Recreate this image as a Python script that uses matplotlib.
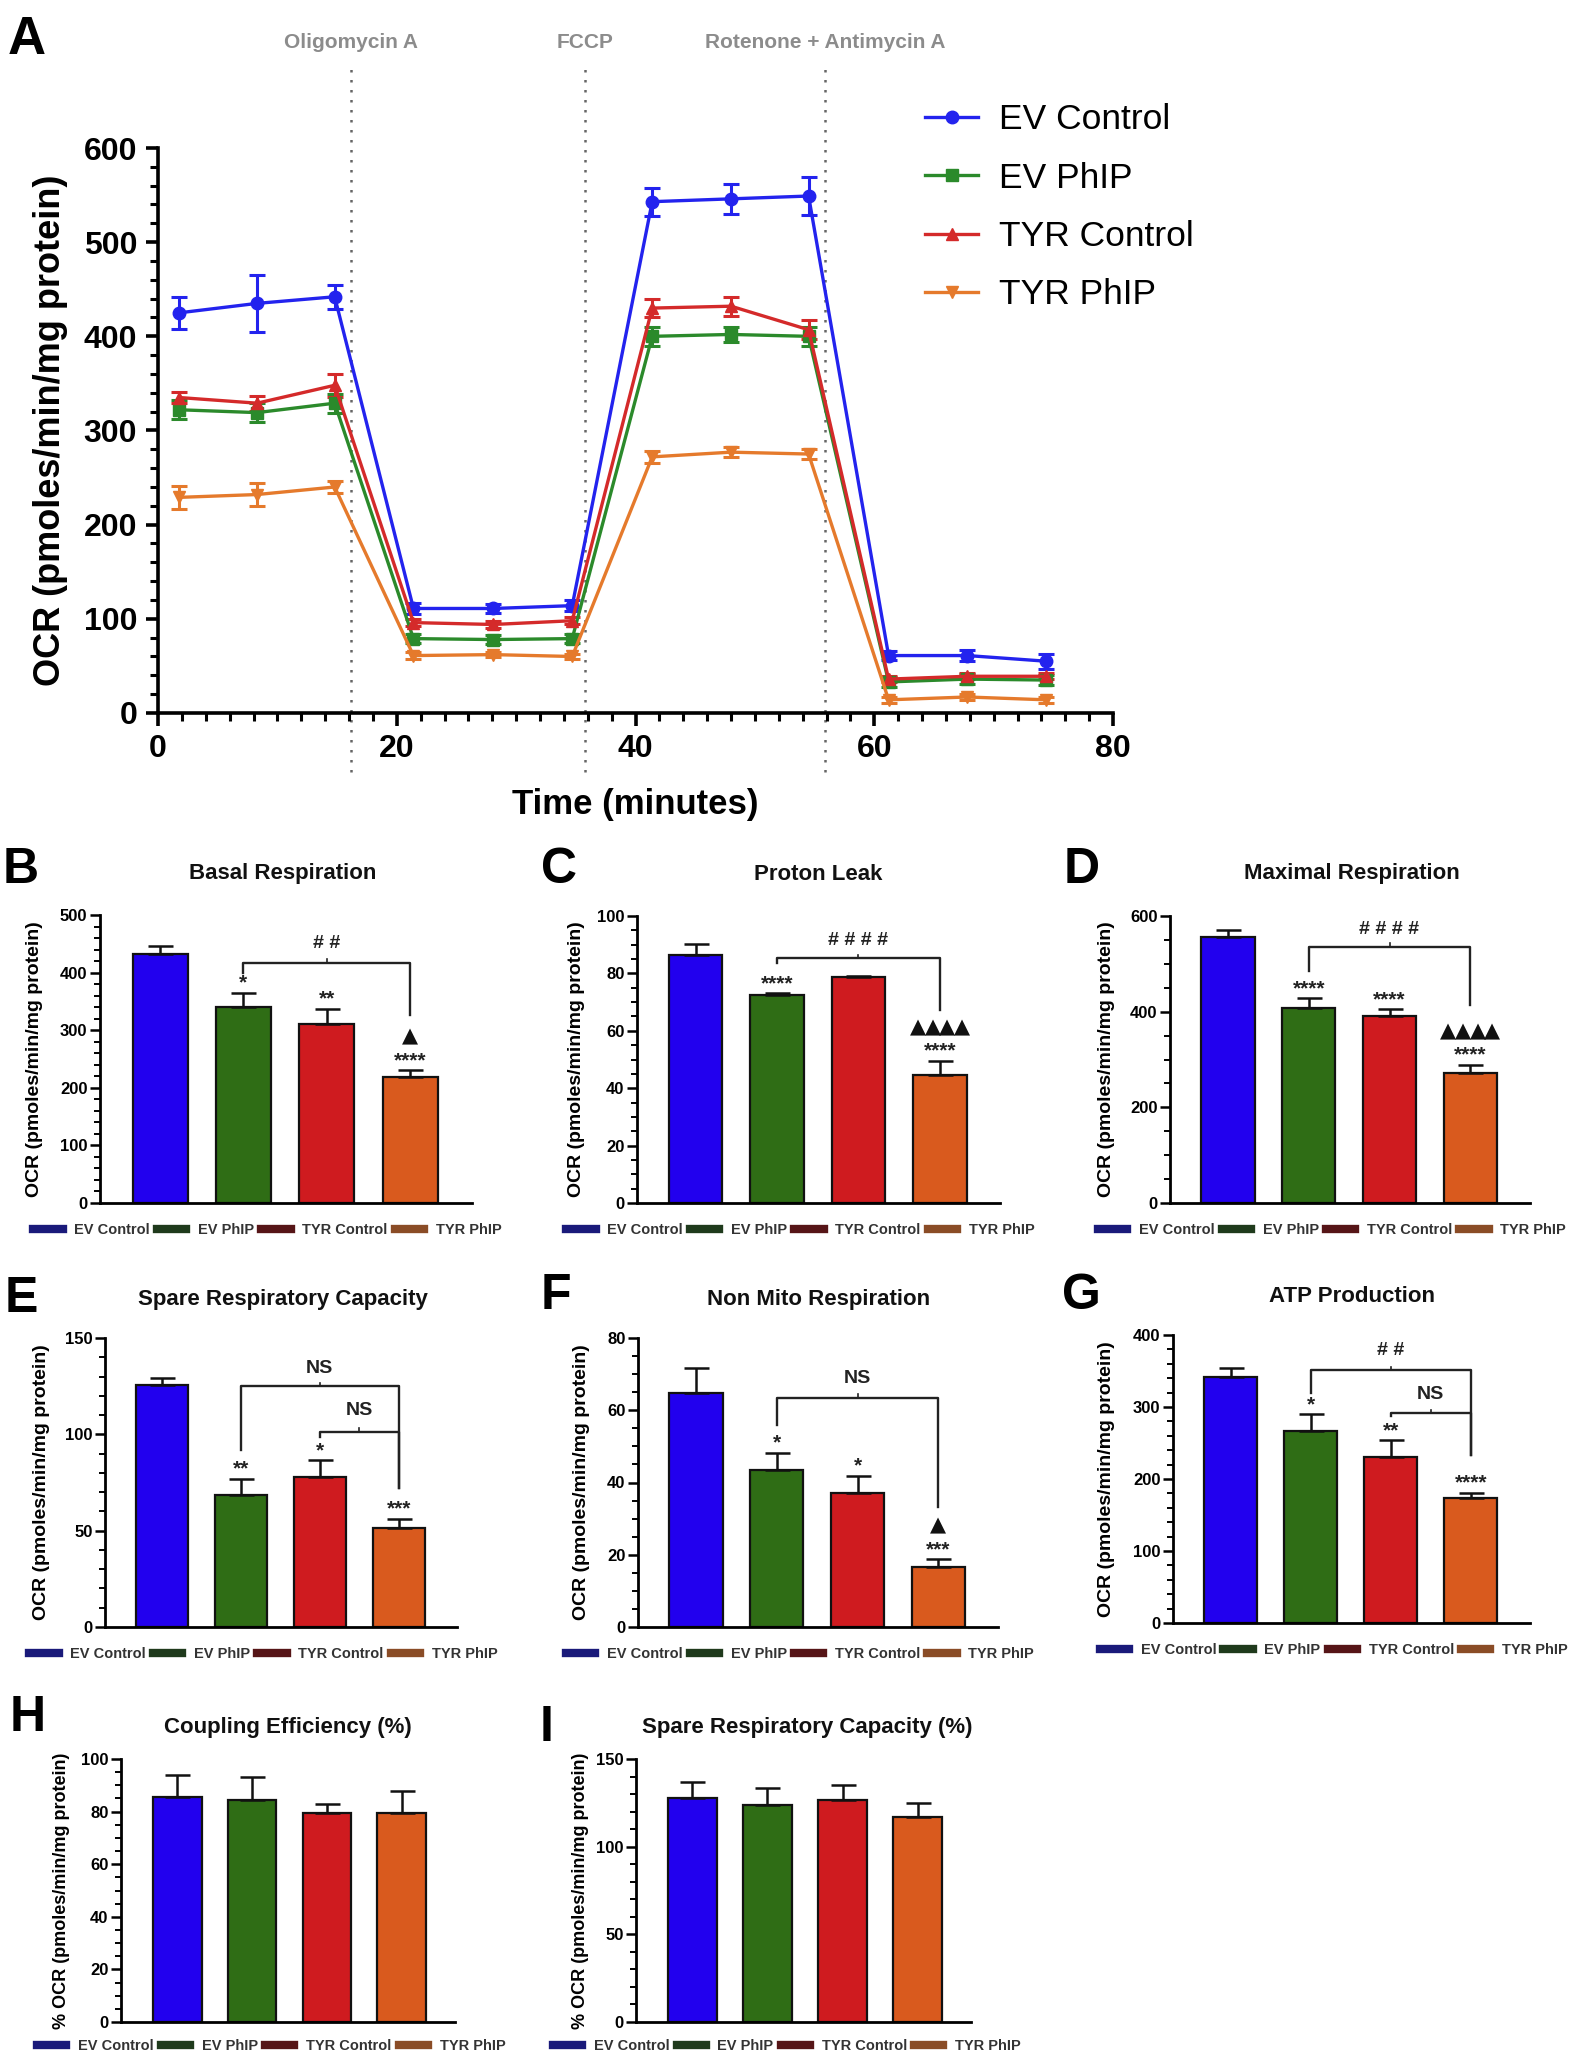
import matplotlib
matplotlib.use("Agg")
import matplotlib.pyplot as plt
import matplotlib.transforms as mtransforms
from matplotlib.lines import Line2D
from matplotlib.ticker import MultipleLocator, AutoMinorLocator

plt.rcParams['font.family'] = ['Liberation Sans', 'DejaVu Sans']

# ---- data: panel A (Seahorse trace) ----
time_min = [1.8, 8.3, 14.8, 21.4, 28.1, 34.7, 41.4, 48.0, 54.5, 61.2, 67.8, 74.4]
ev_ctrl = [425, 435, 442, 111, 111, 114, 543, 546, 549, 61, 61, 55]
ev_ctrl_err = [17, 30, 13, 6, 5, 6, 15, 16, 20, 5, 6, 8]
ev_phip = [322, 319, 329, 79, 78, 79, 400, 402, 400, 33, 36, 35]
ev_phip_err = [10, 10, 10, 5, 5, 5, 10, 8, 10, 5, 5, 5]
tyr_ctrl = [335, 329, 348, 96, 94, 98, 430, 432, 407, 36, 39, 39]
tyr_ctrl_err = [6, 8, 12, 4, 4, 4, 10, 10, 10, 3, 3, 3]
tyr_phip = [229, 232, 240, 61, 62, 60, 272, 277, 275, 14, 17, 14]
tyr_phip_err = [12, 12, 6, 4, 3, 3, 6, 5, 5, 3, 3, 3]
injections = ['Oligomycin A', 'FCCP', 'Rotenone + Antimycin A']
injection_min = [16.2, 35.8, 55.9]

# ---- data: bar panels ----
groups = ['EV Control', 'EV PhIP', 'TYR Control', 'TYR PhIP']
basal = [432, 341, 311, 218]
basal_err = [14, 24, 26, 13]
leak = [86.4, 72.5, 78.6, 44.6]
leak_err = [4, 0.5, 0.4, 5]
maximal = [557, 407, 390, 271]
maximal_err = [14, 21, 15, 18]
spare = [125.6, 68.5, 77.7, 51.2]
spare_err = [3.5, 8.5, 9, 5]
nonmito = [64.9, 43.5, 37.2, 16.7]
nonmito_err = [6.7, 4.8, 4.7, 2]
atp = [342, 266, 231, 173]
atp_err = [12, 24, 23, 8]
coupling = [85.4, 84.4, 79.6, 79.6]
coupling_err = [8.5, 8.6, 3.3, 8.2]
spare_pct = [127.6, 123.6, 126.6, 116.8]
spare_pct_err = [9.5, 9.7, 8.6, 8.3]

# significance marks (stars vs EV Control, triangles vs TYR Control)
basal_stars = ['', '*', '**', '****']
basal_tri = [0, 0, 0, 1]
leak_stars = ['', '****', '', '****']
leak_tri = [0, 0, 0, 4]
maximal_stars = ['', '****', '****', '****']
maximal_tri = [0, 0, 0, 4]
spare_stars = ['', '**', '*', '***']
nonmito_stars = ['', '*', '*', '***']
nonmito_tri = [0, 0, 0, 1]
atp_stars = ['', '*', '**', '****']

line_colors = ['#2323ee', '#2b8a2b', '#d42a2a', '#e57a2c']
line_markers = ['o', 's', '^', 'v']
bar_colors = ['#2200ee', '#2f6d15', '#cf1b1f', '#d95a1e']
legend_colors = ['#1a1a7a', '#1f3a1c', '#561517', '#8a4c26']

W, H = 1590, 2058
fig = plt.figure(figsize=(15.9, 20.58), dpi=100)


def rect(l, t, r, b):
    return [l / W, 1 - b / H, (r - l) / W, (b - t) / H]


def ftext(x, y, s, **kw):
    fig.text(x / W, 1 - y / H, s, **kw)


# ================= Panel A =================
axA = fig.add_axes(rect(158, 148, 1113, 713))
series = [ev_ctrl, ev_phip, tyr_ctrl, tyr_phip]
series_err = [ev_ctrl_err, ev_phip_err, tyr_ctrl_err, tyr_phip_err]
for vals, errs, c, m in zip(series, series_err, line_colors, line_markers):
    axA.errorbar(time_min, vals, yerr=errs, color=c, marker=m, ms=9, lw=2.4,
                 elinewidth=2.2, capsize=6, capthick=2.2, zorder=3)
axA.set_xlim(0, 80)
axA.set_ylim(0, 600)
axA.xaxis.set_major_locator(MultipleLocator(20))
axA.xaxis.set_minor_locator(MultipleLocator(2))
axA.yaxis.set_major_locator(MultipleLocator(100))
axA.yaxis.set_minor_locator(MultipleLocator(20))
for s in ['top', 'right']:
    axA.spines[s].set_visible(False)
for s in ['left', 'bottom']:
    axA.spines[s].set_linewidth(2.6)
axA.tick_params(which='major', length=9, width=2.6, labelsize=23, pad=6)
axA.tick_params(which='minor', length=6, width=2.2)
for lab in axA.get_xticklabels() + axA.get_yticklabels():
    lab.set_fontweight('bold')
axA.set_ylabel('OCR (pmoles/min/mg protein)', fontsize=26, fontweight='bold')
axA.yaxis.set_label_coords(-0.094, 0.5)
axA.set_xlabel('Time (minutes)', fontsize=25, fontweight='bold')
axA.xaxis.set_label_coords(0.5, -0.133)

trans = mtransforms.blended_transform_factory(axA.transData, axA.transAxes)
for name, xm in zip(injections, injection_min):
    axA.plot([xm, xm], [-0.104, 1.147], transform=trans, color='#666666',
             ls=(0, (1, 3)), lw=1.8, clip_on=False, zorder=1)
    axA.text(xm, 1.186, name, transform=trans, ha='center', va='center',
             fontsize=15, fontweight='bold', color='#8c8c8c')

handlesA = [Line2D([0], [0], color=c, marker=m, ms=9, lw=2.4)
            for c, m in zip(line_colors, line_markers)]
fig.legend(handlesA, groups, loc='upper left', bbox_to_anchor=(925 / W, 1 - 103 / H),
           frameon=False, fontsize=25.5, handlelength=1.5, labelspacing=0.72,
           handletextpad=0.6, borderpad=0, borderaxespad=0)

ftext(8, 40, 'A', fontsize=38, fontweight='bold', va='center', ha='left')


# ================= bar panels =================
def bar_panel(box, values, errs, top, major, nminor, title, title_xy, letter, letter_xy,
              ylabel_x, xlim=(-0.72, 3.74), width=0.66, ylabel='OCR (pmoles/min/mg protein)',
              ylabel_size=14, stars=None, tris=None):
    ax = fig.add_axes(rect(*box))
    xs = range(len(values))
    ax.bar(xs, values, width=width, color=bar_colors, edgecolor='#111111', lw=1.6, zorder=2)
    ax.errorbar(xs, values, yerr=[[0] * len(errs), errs], fmt='none', ecolor='#111111',
                elinewidth=1.8, capsize=9, capthick=1.8, zorder=3)
    ax.set_xlim(*xlim)
    ax.set_ylim(0, top)
    ax.yaxis.set_major_locator(MultipleLocator(major))
    ax.yaxis.set_minor_locator(AutoMinorLocator(nminor))
    ax.set_xticks([])
    for s in ['top', 'right']:
        ax.spines[s].set_visible(False)
    for s in ['left', 'bottom']:
        ax.spines[s].set_linewidth(2.0)
    ax.tick_params(axis='y', which='major', length=7, width=1.8, labelsize=12, pad=2)
    ax.tick_params(axis='y', which='minor', length=4, width=1.4)
    for lab in ax.get_yticklabels():
        lab.set_fontweight('bold')
    ax.set_ylabel(ylabel, fontsize=ylabel_size, fontweight='bold')
    bl, _, br, _ = box
    ax.yaxis.set_label_coords((ylabel_x - bl) / (br - bl), 0.5)
    ftext(title_xy[0], title_xy[1], title, fontsize=16, fontweight='bold',
          ha='center', va='center', color='#111111')
    ftext(letter_xy[0], letter_xy[1], letter, fontsize=36, fontweight='bold',
          ha='left', va='center')
    if stars:
        for i, s in enumerate(stars):
            if s:
                ax.annotate(s, (i, values[i] + errs[i]), xytext=(0, 0), textcoords='offset points',
                            ha='center', va='bottom', fontsize=15, fontweight='bold', color='#222222')
    if tris:
        for i, n in enumerate(tris):
            for k in range(n):
                dx = (k - (n - 1) / 2) * 10.5
                ax.annotate('\u25B2', (i, values[i] + errs[i]), xytext=(dx, 17),
                            textcoords='offset points', ha='center', va='bottom',
                            fontsize=15, color='#111111', family='DejaVu Sans')
    handles = [Line2D([0], [0], color=c, lw=6) for c in legend_colors]
    leg = ax.legend(handles, groups, loc='center', bbox_to_anchor=(0.45, -0.093), ncol=4,
                    frameon=False, fontsize=10.5, handlelength=2.0, handletextpad=0.8,
                    columnspacing=0.5, borderaxespad=0)
    for t in leg.get_texts():
        t.set_fontweight('bold')
        t.set_color('#333333')
    return ax


def bracket(ax, i, j, y, yi, yj, label, ly):
    ax.plot([i, i, j, j], [yi, y, y, yj], color='#222222', lw=1.7, zorder=4)
    span = ax.get_ylim()[1]
    ax.plot([(i + j) / 2] * 2, [y, y + span * 0.012], color='#222222', lw=1.2)
    ax.text((i + j) / 2, ly, label, ha='center', va='center', fontsize=14,
            fontweight='bold', color='#222222')


axB = bar_panel((100, 915, 472, 1203), basal, basal_err, 500, 100, 5, 'Basal Respiration',
                (283, 874), 'B', (3, 870), 43, stars=basal_stars, tris=basal_tri)
bracket(axB, 1, 3, 417, 399, 326, '# #', 451)

axC = bar_panel((637, 916, 1000, 1203), leak, leak_err, 100, 20, 4, 'Proton Leak',
                (818, 875), 'C', (541, 870), 585, stars=leak_stars, tris=leak_tri)
bracket(axC, 1, 3, 85.3, 83.6, 67.2, '# # # #', 91.6)

axD = bar_panel((1170, 916, 1530, 1203), maximal, maximal_err, 600, 200, 4,
                'Maximal Respiration', (1352, 873), 'D', (1064, 870), 1115,
                stars=maximal_stars, tris=maximal_tri)
bracket(axD, 1, 3, 536, 484, 414, '# # # #', 571)

axE = bar_panel((105, 1338, 457, 1627), spare, spare_err, 150, 50, 5,
                'Spare Respiratory Capacity', (283, 1300), 'E', (5, 1299), 50,
                stars=spare_stars)
bracket(axE, 1, 3, 125, 92, 72, 'NS', 134)
bracket(axE, 2, 3, 101.4, 98.7, 72, 'NS', 112.6)

axF = bar_panel((638, 1338, 998, 1627), nonmito, nonmito_err, 80, 20, 4,
                'Non Mito Respiration', (819, 1300), 'F', (541, 1296), 590,
                stars=nonmito_stars, tris=nonmito_tri)
bracket(axF, 1, 3, 63.5, 55.9, 33.3, 'NS', 68.8)

axG = bar_panel((1173, 1335, 1530, 1623), atp, atp_err, 400, 100, 5, 'ATP Production',
                (1352, 1297), 'G', (1062, 1296), 1115, stars=atp_stars)
bracket(axG, 1, 3, 351, 319, 233, '# #', 379)
bracket(axG, 2, 3, 291, 287, 233, 'NS', 317)

axH = bar_panel((121, 1759, 455, 2022), coupling, coupling_err, 100, 20, 4,
                'Coupling Efficiency (%)', (288, 1727), 'H', (10, 1718), 70,
                xlim=(-0.75, 3.71), width=0.65, ylabel='% OCR (pmoles/min/mg protein)',
                ylabel_size=13)
axI = bar_panel((636, 1759, 971, 2022), spare_pct, spare_pct_err, 150, 50, 5,
                'Spare Respiratory Capacity (%)', (807, 1727), 'I', (540, 1728), 589,
                xlim=(-0.75, 3.71), width=0.65, ylabel='% OCR (pmoles/min/mg protein)',
                ylabel_size=13)

fig.savefig('out.png', dpi=100, facecolor='white')
